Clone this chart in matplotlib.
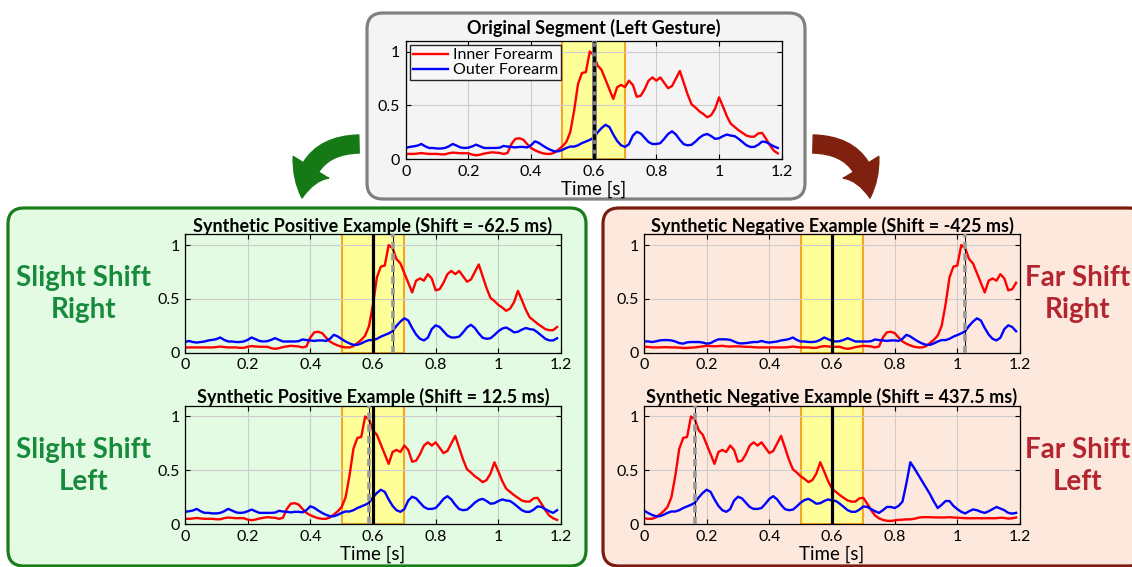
import numpy as np
import matplotlib
matplotlib.use("Agg")
import matplotlib.pyplot as plt
from matplotlib.patches import FancyBboxPatch, FancyArrowPatch

plt.rcParams['font.family'] = ['Lato', 'DejaVu Sans']

# sampling rate of the recording (Hz), segment length in samples
FS = 80
N_SEG = 96

# inner forearm channel, before / inside / after the original 1.2 s segment
inner_pre = [0.055, 0.055, 0.05, 0.05, 0.05, 0.052, 0.052, 0.05, 0.05, 0.048,
             0.045, 0.045, 0.048, 0.05, 0.055, 0.06, 0.065, 0.062, 0.06, 0.062,
             0.065, 0.06, 0.058, 0.06, 0.06, 0.058, 0.055, 0.055, 0.052, 0.05,
             0.05, 0.05, 0.05, 0.05]
inner_seg = [0.05, 0.05, 0.05, 0.053, 0.058, 0.053, 0.05, 0.05, 0.05, 0.046,
             0.046, 0.056, 0.062, 0.059, 0.056, 0.056, 0.056, 0.043, 0.037, 0.043,
             0.053, 0.059, 0.065, 0.062, 0.059, 0.05, 0.059, 0.142, 0.19, 0.195,
             0.183, 0.142, 0.105, 0.084, 0.068, 0.056, 0.05, 0.05, 0.062, 0.09,
             0.12, 0.16, 0.25, 0.45, 0.70, 0.80, 0.81, 1.0, 0.97, 0.87,
             0.83, 0.74, 0.65, 0.56, 0.67, 0.69, 0.67, 0.73, 0.69, 0.58,
             0.59, 0.65, 0.73, 0.76, 0.73, 0.76, 0.71, 0.66, 0.68, 0.75,
             0.82, 0.71, 0.6, 0.51, 0.48, 0.445, 0.42, 0.39, 0.41, 0.47,
             0.575, 0.49, 0.40, 0.33, 0.30, 0.27, 0.245, 0.22, 0.21, 0.21,
             0.24, 0.245, 0.19, 0.13, 0.08, 0.055]
inner_post = [0.04, 0.032, 0.03, 0.035, 0.04, 0.042, 0.045, 0.045, 0.05, 0.06,
              0.065, 0.065, 0.065, 0.063, 0.063, 0.062, 0.063, 0.065, 0.062, 0.06,
              0.058, 0.056, 0.055, 0.055, 0.056, 0.055, 0.055, 0.056, 0.055, 0.056,
              0.06, 0.058, 0.052, 0.055, 0.062]

# outer forearm channel
outer_pre = [0.106, 0.106, 0.1, 0.106, 0.115, 0.118, 0.118, 0.115, 0.105, 0.09,
             0.085, 0.097, 0.1, 0.1, 0.1, 0.095, 0.085, 0.09, 0.11, 0.125,
             0.125, 0.125, 0.12, 0.105, 0.09, 0.087, 0.09, 0.095, 0.1, 0.1,
             0.11, 0.1, 0.095, 0.1]
outer_seg = [0.105, 0.115, 0.12, 0.127, 0.142, 0.12, 0.105, 0.105, 0.1, 0.1,
             0.105, 0.12, 0.142, 0.127, 0.11, 0.105, 0.108, 0.12, 0.136, 0.12,
             0.105, 0.105, 0.105, 0.105, 0.108, 0.124, 0.118, 0.115, 0.11, 0.115,
             0.115, 0.11, 0.13, 0.167, 0.152, 0.127, 0.105, 0.087, 0.074, 0.074,
             0.087, 0.105, 0.118, 0.118, 0.13, 0.15, 0.165, 0.18, 0.2, 0.25,
             0.29, 0.32, 0.3, 0.23, 0.17, 0.13, 0.115, 0.14, 0.22, 0.255,
             0.24, 0.2, 0.16, 0.142, 0.142, 0.15, 0.19, 0.235, 0.26, 0.23,
             0.18, 0.14, 0.13, 0.135, 0.165, 0.2, 0.225, 0.235, 0.215, 0.19,
             0.195, 0.215, 0.23, 0.22, 0.215, 0.19, 0.16, 0.13, 0.115, 0.115,
             0.135, 0.165, 0.16, 0.14, 0.12, 0.105]
outer_post = [0.13, 0.16, 0.16, 0.15, 0.17, 0.21, 0.38, 0.575, 0.52, 0.46,
              0.4, 0.34, 0.28, 0.21, 0.15, 0.18, 0.215, 0.215, 0.17, 0.14,
              0.115, 0.1, 0.12, 0.137, 0.13, 0.115, 0.105, 0.12, 0.14, 0.16,
              0.145, 0.13, 0.105, 0.098, 0.105]

inner = np.array(inner_pre + inner_seg + inner_post)
outer = np.array(outer_pre + outer_seg + outer_post)
n_pre = len(inner_pre)

peak_time = 0.6
window = (0.5, 0.7)

titles = ['Synthetic Positive Example (Shift = -62.5 ms)',
          'Synthetic Positive Example (Shift = 12.5 ms)',
          'Synthetic Negative Example (Shift = -425 ms)',
          'Synthetic Negative Example (Shift = 437.5 ms)']
shifts_ms = [-62.5, 12.5, -425, 437.5]

xticks = [0, 0.2, 0.4, 0.6, 0.8, 1.0, 1.2]
xticklabels = ['0', '0.2', '0.4', '0.6', '0.8', '1', '1.2']
yticks = [0, 0.5, 1]
yticklabels = ['0', '0.5', '1']

W, H = 1132, 567
fig = plt.figure(figsize=(W / 100, H / 100), dpi=100)

# background layer in pixel coordinates for boxes, arrows and side labels
bg = fig.add_axes([0, 0, 1, 1])
bg.set_xlim(0, W)
bg.set_ylim(H, 0)
bg.axis('off')

def box(x0, y0, x1, y1, face, edge):
    p = FancyBboxPatch((x0, y0), x1 - x0, y1 - y0,
                       boxstyle="round,pad=0,rounding_size=16",
                       facecolor=face, edgecolor=edge, linewidth=2.3)
    bg.add_patch(p)

box(367, 13, 805, 199, '#f4f4f4', '#808080')
box(8, 208, 586, 566, '#e2fbe2', '#1a7d1a')
box(603, 208, 1145, 566, '#fde8de', '#7a1d10')

arrow_style = "simple,head_width=3.0,head_length=2.3,tail_width=1.3"
green_arrow = FancyArrowPatch((359, 144), (302, 198), connectionstyle="arc3,rad=0.45",
                              arrowstyle=arrow_style, mutation_scale=10,
                              color='#157a15', shrinkA=0, shrinkB=0)
red_arrow = FancyArrowPatch((813, 144), (870, 198), connectionstyle="arc3,rad=-0.45",
                            arrowstyle=arrow_style, mutation_scale=10,
                            color='#80200f', shrinkA=0, shrinkB=0)
bg.add_patch(green_arrow)
bg.add_patch(red_arrow)

green_txt = '#178a3c'
red_txt = '#b3262f'
side = dict(ha='center', va='center', fontsize=20, fontweight='bold', linespacing=1.25)
bg.text(84, 294, 'Slight Shift\nRight', color=green_txt, **side)
bg.text(84, 466, 'Slight Shift\nLeft', color=green_txt, **side)
bg.text(1078, 294, 'Far Shift\nRight', color=red_txt, **side)
bg.text(1078, 466, 'Far Shift\nLeft', color=red_txt, **side)


def px_axes(left, top, w=376, h=118.5):
    ax = fig.add_axes([left / W, 1 - (top + h) / H, w / W, h / H])
    ax.set_facecolor('none')
    return ax


def style(ax, xlabel=False):
    ax.set_xlim(0, 1.2)
    ax.set_ylim(0, 1.1)
    ax.set_xticks(xticks)
    ax.set_xticklabels(xticklabels)
    ax.set_yticks(yticks)
    ax.set_yticklabels(yticklabels)
    ax.tick_params(direction='in', top=True, right=True, length=3.5, width=0.8,
                   labelsize=11.5, pad=4)
    ax.grid(True, color='#cccccc', linewidth=0.8)
    for s in ax.spines.values():
        s.set_linewidth(0.9)
    ax.axvspan(window[0], window[1], facecolor='#ffff99', edgecolor='#f5a623',
               linewidth=1.5, zorder=1)
    if xlabel:
        ax.set_xlabel('Time [s]', fontsize=13.5, labelpad=1.5)


def panel(ax, shift_ms, title):
    start = n_pre + int(round(shift_ms / 1000 * FS))
    t = np.arange(N_SEG) / FS
    ax.plot(t, inner[start:start + N_SEG], color='#ff0000', lw=1.7)
    ax.plot(t, outer[start:start + N_SEG], color='#0000ff', lw=1.7)
    marker = peak_time - shift_ms / 1000
    ax.axvline(marker, color='k', lw=0.7, zorder=3)
    ax.axvline(marker, color='#999999', lw=2.6, dashes=(2.0, 1.2), zorder=3)
    ax.axvline(peak_time, color='k', lw=2.3, zorder=3)
    ax.set_title(title, fontsize=13, fontweight='bold', pad=2)


# original segment
ax0 = px_axes(405.7, 40.8)
style(ax0, xlabel=True)
t0 = np.arange(N_SEG) / FS
ax0.plot(t0, inner[n_pre:n_pre + N_SEG], color='#ff0000', lw=1.7, label='Inner Forearm')
ax0.plot(t0, outer[n_pre:n_pre + N_SEG], color='#0000ff', lw=1.7, label='Outer Forearm')
ax0.axvline(peak_time, color='#808080', lw=3.6, zorder=3)
ax0.axvline(peak_time, color='k', lw=2, dashes=(2.1, 1.4), zorder=3)
ax0.set_title('Original Segment (Left Gesture)', fontsize=13, fontweight='bold', pad=5)
ax0.legend(loc='upper left', fontsize=11.5, fancybox=False, edgecolor='#262626',
           facecolor='#f8f8f8', framealpha=1, handlelength=2.2, handletextpad=0.3,
           labelspacing=0.05, borderaxespad=0.25, borderpad=0.2)

positions = [(185, 234.3, False), (185, 405.7, True), (644, 234.3, False), (644, 405.7, True)]
for (left, top, xl), shift_ms, title in zip(positions, shifts_ms, titles):
    ax = px_axes(left, top)
    style(ax, xlabel=xl)
    panel(ax, shift_ms, title)

fig.savefig('out.png', dpi=100)
